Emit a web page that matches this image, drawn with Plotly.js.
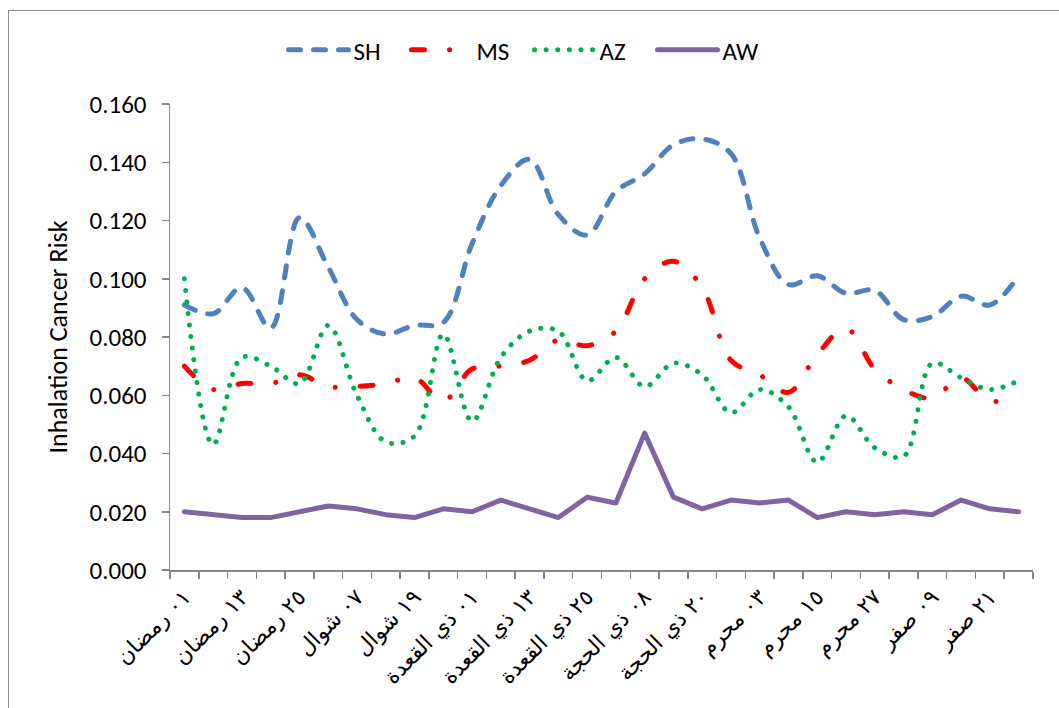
<!DOCTYPE html>
<html><head><meta charset="utf-8">
<script src="https://cdn.plot.ly/plotly-3.0.1.min.js"></script>
<style>
html,body{margin:0;padding:0;background:#fff;overflow:hidden;}
#chart{position:absolute;left:0;top:0;width:1059px;height:708px;}
#frame{position:absolute;left:8px;top:10px;width:1070px;height:730px;border:1px solid #8c8c8c;box-sizing:border-box;pointer-events:none;z-index:10;}
.scatterlayer path.js-line, .legend path.js-line{stroke-linecap:round;stroke-linejoin:round;}
</style></head><body>
<div id="chart"></div>
<div id="frame"></div>
<script>
// Sampling dates (every 6 days)
const dates = [
  "٠١ رمضان","٠٧ رمضان","١٣ رمضان","١٩ رمضان","٢٥ رمضان",
  "٠١ شوال","٠٧ شوال","١٣ شوال","١٩ شوال","٢٥ شوال",
  "٠١ ذي القعدة","٠٧ ذي القعدة","١٣ ذي القعدة","١٩ ذي القعدة","٢٥ ذي القعدة",
  "٠٢ ذي الحجة","٠٨ ذي الحجة","١٤ ذي الحجة","٢٠ ذي الحجة","٢٦ ذي الحجة",
  "٠٣ محرم","٠٩ محرم","١٥ محرم","٢١ محرم","٢٧ محرم",
  "٠٣ صفر","٠٩ صفر","١٥ صفر","٢١ صفر","٢٧ صفر"
];
// Tick labels: every other date is labelled
const tickLabels = dates.map((d, i) => (i % 2 === 0 ? d : ""));

const SH = [0.091,0.088,0.097,0.083,0.121,0.104,0.086,0.081,0.084,0.085,
            0.112,0.132,0.141,0.122,0.115,0.130,0.136,0.146,0.148,0.143,
            0.114,0.098,0.101,0.095,0.096,0.086,0.087,0.094,0.091,0.101];
const MS = [0.070,0.062,0.064,0.064,0.067,0.063,0.063,0.064,0.066,0.058,
            0.069,0.070,0.072,0.079,0.077,0.082,0.100,0.106,0.097,0.072,
            0.067,0.061,0.074,0.083,0.069,0.062,0.059,0.066,0.058,0.060];
const AZ = [0.100,0.043,0.073,0.070,0.064,0.084,0.060,0.044,0.046,0.081,
            0.051,0.073,0.082,0.082,0.065,0.073,0.063,0.071,0.067,0.054,
            0.062,0.056,0.037,0.053,0.042,0.039,0.071,0.066,0.062,0.065];
const AW = [0.020,0.019,0.018,0.018,0.020,0.022,0.021,0.019,0.018,0.021,
            0.020,0.024,0.021,0.018,0.025,0.023,0.047,0.025,0.021,0.024,
            0.023,0.024,0.018,0.020,0.019,0.020,0.019,0.024,0.021,0.020];

const seriesNames = ["SH","MS","AZ","AW"];
const FONT = "Carlito, Lato, 'DejaVu Sans', sans-serif";

const traces = [
  {x: dates, y: SH, name: seriesNames[0], type: "scatter", mode: "lines",
   line: {color: "#4F81BD", width: 5, dash: "12px,13px", shape: "spline", smoothing: 1}},
  {x: dates, y: MS, name: seriesNames[1], type: "scatter", mode: "lines",
   line: {color: "#FF0000", width: 5, dash: "13px,25px,0.1px,25px", shape: "spline", smoothing: 1}},
  {x: dates, y: AZ, name: seriesNames[2], type: "scatter", mode: "lines",
   line: {color: "#00B050", width: 5, dash: "0.1px,11.5px", shape: "spline", smoothing: 1}},
  {x: dates, y: AW, name: seriesNames[3], type: "scatter", mode: "lines",
   line: {color: "#8064A2", width: 5}}
];

const layout = {
  width: 1059, height: 708,
  margin: {l: 170, r: 26, t: 104, b: 138},
  paper_bgcolor: "#ffffff", plot_bgcolor: "#ffffff",
  font: {family: FONT, size: 24, color: "#000"},
  showlegend: true,
  legend: {orientation: "h", xref: "container", yref: "container",
           x: 0.5, xanchor: "center", y: 1 - 50/708, yanchor: "middle",
           font: {family: FONT, size: 25, color: "#000"},
           itemwidth: 60, entrywidth: 48, entrywidthmode: "pixels",
           bgcolor: "rgba(0,0,0,0)"},
  xaxis: {type: "category", tickmode: "array", tickvals: dates, ticktext: tickLabels,
          tickson: "boundaries", ticks: "outside", ticklen: 7, tickcolor: "#868686",
          tickwidth: 1.5, showline: true, linecolor: "#868686", linewidth: 1.5,
          showgrid: false, zeroline: false, tickangle: -45,
          ticklabelshift: 0, ticklabelstandoff: 4,
          tickfont: {family: "'DejaVu Sans', sans-serif", size: 22, color: "#000"},
          range: [-0.5, 29.5]},
  yaxis: {range: [0, 0.16], dtick: 0.02, tick0: 0, tickformat: ".3f",
          ticks: "outside", ticklen: 7, tickcolor: "#868686", tickwidth: 1.5,
          showline: true, linecolor: "#868686", linewidth: 1.5,
          showgrid: false, zeroline: false, ticklabelstandoff: 10,
          tickfont: {family: FONT, size: 25, color: "#000"},
          title: {text: "Inhalation Cancer Risk", standoff: 14,
                  font: {family: FONT, size: 26, color: "#000"}}}
};

Plotly.newPlot("chart", traces, layout, {displayModeBar: false, staticPlot: true});
</script>
</body></html>
